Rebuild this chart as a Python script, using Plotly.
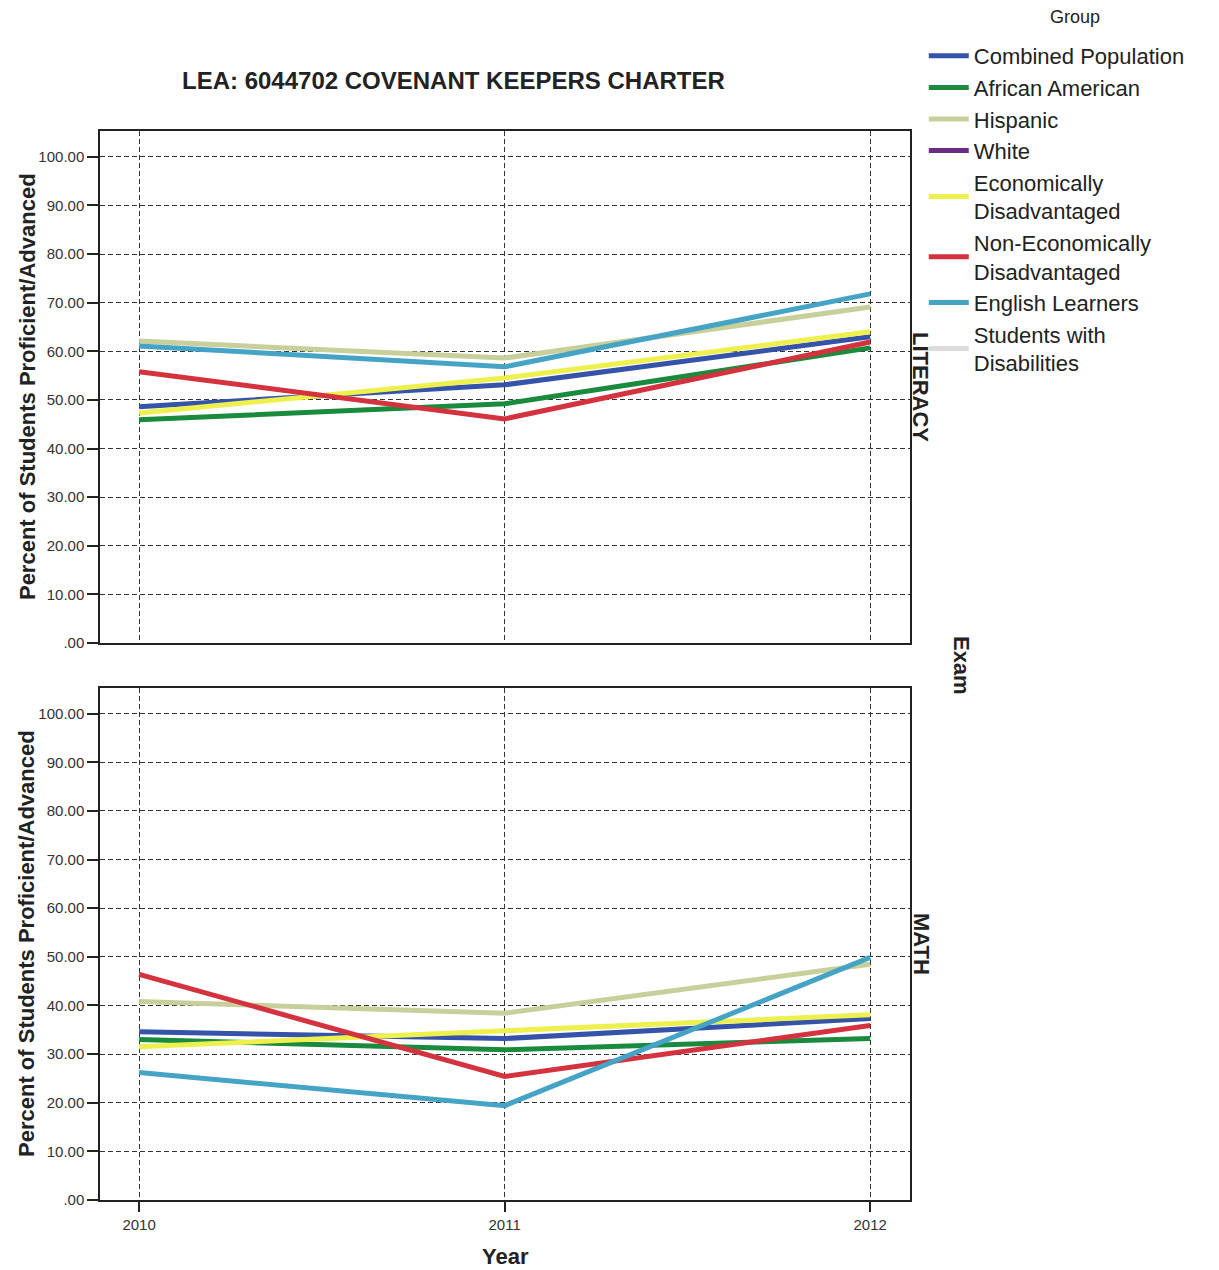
import plotly.graph_objects as go

years = [2010, 2011, 2012]
groups = ["Combined Population", "African American", "Hispanic", "White",
          "Economically<br>Disadvantaged", "Non-Economically<br>Disadvantaged",
          "English Learners", "Students with<br>Disabilities"]
colors = ["#3553a8", "#1a8a3c", "#c8cf9a", "#6b2c86", "#eef04e", "#d3323e", "#45a3c6", "#dcdcdc"]

literacy = {
    "Combined Population": [48.6, 53.1, 63.0],
    "African American": [45.9, 49.2, 60.7],
    "Hispanic": [62.1, 58.6, 69.1],
    "White": [None, None, None],
    "Economically<br>Disadvantaged": [47.3, 54.5, 64.0],
    "Non-Economically<br>Disadvantaged": [55.8, 46.1, 61.9],
    "English Learners": [61.1, 56.8, 71.8],
    "Students with<br>Disabilities": [None, None, None],
}
math = {
    "Combined Population": [34.6, 33.2, 37.3],
    "African American": [33.0, 30.9, 33.2],
    "Hispanic": [40.8, 38.4, 48.5],
    "White": [None, None, None],
    "Economically<br>Disadvantaged": [31.5, 34.8, 38.1],
    "Non-Economically<br>Disadvantaged": [46.4, 25.4, 35.9],
    "English Learners": [26.2, 19.4, 49.9],
    "Students with<br>Disabilities": [None, None, None],
}
ytick_vals = [0, 10, 20, 30, 40, 50, 60, 70, 80, 90, 100]
ytick_text = [".00", "10.00", "20.00", "30.00", "40.00", "50.00", "60.00", "70.00", "80.00", "90.00", "100.00"]

FONT = "Liberation Sans, Arial, sans-serif"
fig = go.Figure()
for g, c in zip(groups, colors):
    fig.add_trace(go.Scatter(x=years, y=literacy[g], mode="lines", name=g,
                             line=dict(color=c, width=5), legendgroup=g,
                             xaxis="x", yaxis="y"))
    fig.add_trace(go.Scatter(x=years, y=math[g], mode="lines", name=g,
                             line=dict(color=c, width=5), legendgroup=g,
                             showlegend=False, xaxis="x2", yaxis="y2"))

grid = dict(showgrid=True, gridcolor="#333", griddash="5px,3px", gridwidth=1, zeroline=False)
common_y = dict(range=[0, 105.3], tickvals=ytick_vals, ticktext=ytick_text,
                ticks="outside", ticklen=11, tickcolor="#222", tickwidth=1.5, showline=True,
                linecolor="#222", linewidth=1.5, mirror=True,
                tickfont=dict(size=15, color="#333", family=FONT), **grid)
common_x = dict(range=[2009.893, 2012.109], tickvals=years, showline=True,
                linecolor="#222", linewidth=1.5, mirror=True,
                tickfont=dict(size=15, color="#333", family=FONT), **grid)

fig.update_layout(
    width=1211, height=1262,
    margin=dict(l=92, r=309, t=123, b=70),
    paper_bgcolor="white", plot_bgcolor="white",
    font=dict(family=FONT, color="#222"),
    xaxis=dict(domain=[0, 1], anchor="y", showticklabels=False, ticks="", **common_x),
    yaxis=dict(domain=[0.521, 1], anchor="x", **common_y),
    xaxis2=dict(domain=[0, 1], anchor="y2", ticks="outside", ticklen=10, tickwidth=2,
                tickcolor="#222", **common_x),
    yaxis2=dict(domain=[0, 0.479], anchor="x2", **common_y),
    legend=dict(x=1.017, y=1.0898, xanchor="left", yanchor="top",
                font=dict(size=22, family=FONT, color="#222"),
                tracegroupgap=0, itemwidth=40, bgcolor="rgba(0,0,0,0)"),
    showlegend=True,
)

def ann(text, x, y, size, angle=0, xshift=0):
    return dict(text=text, x=x, y=y, xref="paper", yref="paper", xshift=xshift,
                showarrow=False, textangle=angle, xanchor="center", yanchor="middle",
                font=dict(family=FONT, size=size, color="#222"))

annotations = [
    ann("<b>LEA: 6044702 COVENANT KEEPERS CHARTER</b>", 0.437, 1.0477, 24),
    ann("<b>Percent of Students Proficient/Advanced</b>", -0.0901, 0.7605, 22, -90),
    ann("<b>Percent of Students Proficient/Advanced</b>", -0.0901, 0.2395, 22, -90),
    ann("<b>LITERACY</b>", 1.0, 0.7605, 22, 90, 11),
    ann("<b>MATH</b>", 1.0, 0.2395, 22, 90, 11),
    ann("<b>Exam</b>", 1.0, 0.5005, 22, 90, 51),
    ann("<b>Year</b>", 0.5, -0.0524, 22),
    ann("Group", 1.2037, 1.1066, 18),
]
fig.update_layout(annotations=annotations)

fig.write_html("out.html")
